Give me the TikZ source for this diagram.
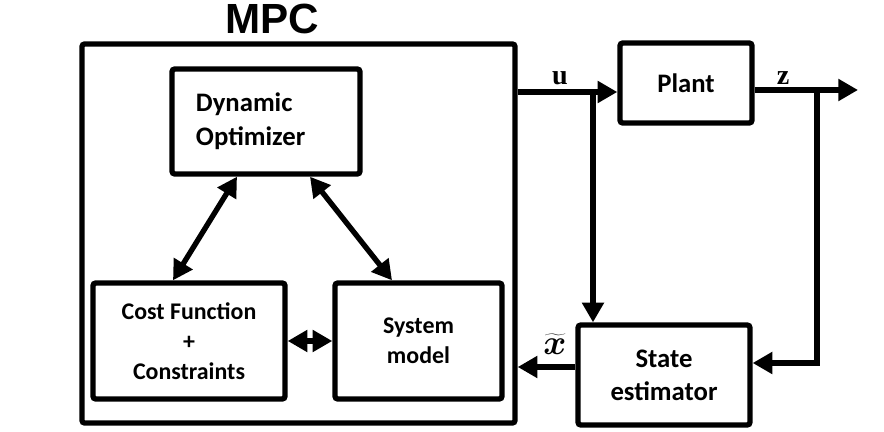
\documentclass[tikz,border=0pt]{standalone}
\usepackage{fontspec}
\newfontfamily\boxfont{Carlito}
\newfontfamily\titlefont{Liberation Sans}
\newfontfamily\labelfont{Liberation Serif}
\usetikzlibrary{arrows.meta}
\begin{document}
\begin{tikzpicture}[
      x=0.025cm, y=-0.025cm,
      box/.style={rectangle, draw, line width=3.8pt, rounded corners=2pt, align=center, inner sep=0pt,
                  font=\boxfont\bfseries\fontsize{19}{23.5}\selectfont},
      arrow/.style={-{Triangle[length=14pt, width=15pt]}, line width=3.8pt},
      dblarrow/.style={{Triangle[length=14pt, width=15pt]}-{Triangle[length=14pt, width=15pt]}, line width=3.8pt},
      sig/.style={font=\labelfont\bfseries\fontsize{20}{20}\selectfont}
  ]
  \useasboundingbox (0,0) rectangle (884,432);

  % Nodes
  \node[rectangle, draw, line width=3.8pt, rounded corners=2pt, minimum width=308pt, minimum height=269.6pt] (mpc) at (298.5,233.5) {};
  \node[font=\titlefont\bfseries\fontsize{30}{30}\selectfont] (title) at (272,19) {MPC};
  \node[box, minimum width=133.7pt, minimum height=74.7pt, text width=99.6pt, align=left,
        font=\boxfont\bfseries\fontsize{19}{24}\selectfont] (dyn) at (266,121.5) {Dynamic\\Optimizer};
  \node[box, minimum width=136.6pt, minimum height=82.5pt,
        font=\boxfont\bfseries\fontsize{17}{21.5}\selectfont] (cost) at (189,341) {Cost Function\\+\\Constraints};
  \node[box, minimum width=118.8pt, minimum height=82.5pt,
        font=\boxfont\bfseries\fontsize{17}{21.5}\selectfont] (sysm) at (418.5,341) {System\\model};
  \node[box, minimum width=93.9pt, minimum height=56.9pt] (plant) at (686,83) {Plant};
  \node[box, minimum width=122.3pt, minimum height=71.1pt] (est) at (664,375) {State\\estimator};

  \coordinate (ub) at (593,92);
  \coordinate (zb) at (817,90);
  \coordinate (zout) at (858,90);
  \coordinate (zin) at (817,363);
  \coordinate (xout) at (577,367);
  \coordinate (dl) at (237,173);
  \coordinate (cl) at (173,283);
  \coordinate (dr) at (310,173);
  \coordinate (sr) at (392,283);

  % Arrows
  \draw[dblarrow] (dyn.south -| dl) -- (cost.north -| cl);
  \draw[dblarrow] (dyn.south -| dr) -- (sysm.north -| sr);
  \draw[dblarrow] (cost) -- (sysm);
  \draw[arrow] (mpc.east |- ub) -- (plant.west |- ub);
  \draw[arrow] (ub) -- (est.north -| ub);
  \draw[arrow] (plant.east |- zb) -- (zout);
  \draw[arrow] (zb) -- (zin) -- (est.east |- zin);
  \draw[arrow] (est.west |- xout) -- (mpc.east |- xout);

  % Labels
  \node[sig] (ulabel) at (560,78) {u};
  \node[sig] (zlabel) at (783,78) {z};
  \node[sig, font=\fontsize{24}{24}\selectfont] (xlabel) at (555,344) {{\boldmath$\widetilde{x}$}};

\end{tikzpicture}
\end{document}
